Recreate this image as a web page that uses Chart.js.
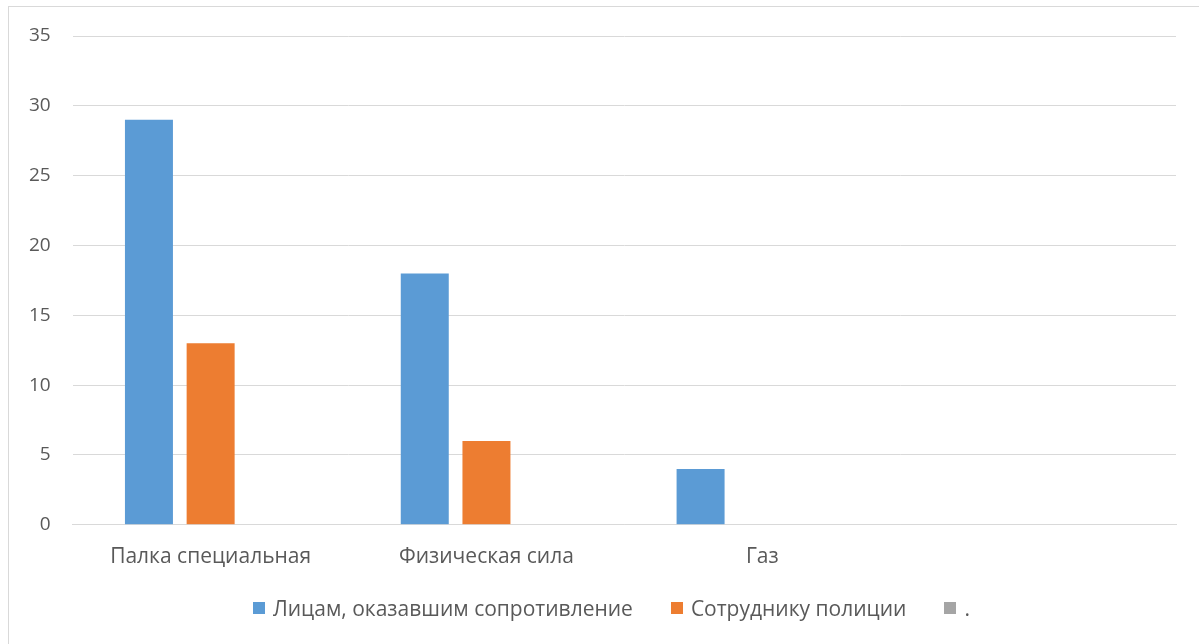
<!DOCTYPE html>
<html>
<head>
<meta charset="utf-8">
<script src="https://cdn.jsdelivr.net/npm/chart.js@4/dist/chart.umd.min.js"></script>
<style>
  html, body { margin: 0; padding: 0; background: #fff; }
  #wrap { position: relative; width: 1199px; height: 644px; overflow: hidden; }
  #frame { position: absolute; left: 8px; top: 6px; width: 1400px; height: 900px;
           border-left: 1px solid #d9d9d9; border-top: 1px solid #d9d9d9; }
  canvas { position: absolute; left: 0; top: 0; }
  #legend { position: absolute; left: 253px; top: 593px; height: 30px;
            display: flex; align-items: center; white-space: nowrap;
            font-family: "Open Sans", sans-serif; font-size: 21px; color: #595959; }
  #legend .item { display: flex; align-items: center; margin-right: 38px; }
  #legend .box { width: 12px; height: 12px; margin-right: 8px; }
</style>
</head>
<body>
<div id="wrap">
  <div id="frame"></div>
  <canvas id="chart" width="1199" height="644"></canvas>
  <div id="legend"></div>
</div>
<script>
// categories (the last one is empty in the source chart)
var categories = ['Палка специальная', 'Физическая сила', 'Газ', ''];

// series values
var resisters = [29, 18, 4, null];
var officers = [13, 6, null, null];
var dotSeries = [null, null, null, null];

var seriesNames = ['Лицам, оказавшим сопротивление', 'Сотруднику полиции', '.'];

var textColor = '#595959';
var gridColor = '#d9d9d9';
var font = { family: '"Open Sans", sans-serif', size: 21 };
var tickFont = { family: '"Open Sans", sans-serif', size: 19 };

var ctx = document.getElementById('chart').getContext('2d');

var chart = new Chart(ctx, {
    type: 'bar',
    data: {
        labels: categories,
        datasets: [{
            label: seriesNames[0],
            data: resisters,
            backgroundColor: '#5b9bd5'
        }, {
            label: seriesNames[1],
            data: officers,
            backgroundColor: '#ed7d31'
        }, {
            label: seriesNames[2],
            data: dotSeries,
            backgroundColor: '#a5a5a5'
        }]
    },
    options: {
        responsive: false,
        animation: false,
        devicePixelRatio: 1,
        categoryPercentage: 0.671,
        barPercentage: 0.778,
        layout: { padding: { left: 7, right: 23, top: 36, bottom: 62 } },
        plugins: {
            legend: { display: false },
            tooltip: { enabled: false }
        },
        scales: {
            x: {
                grid: { display: false },
                border: { display: true, color: gridColor, width: 1 },
                ticks: { color: textColor, font: font, padding: 12, maxRotation: 0 }
            },
            y: {
                min: 0,
                max: 35,
                ticks: { stepSize: 5, color: textColor, font: tickFont, padding: 22 },
                grid: { color: gridColor, lineWidth: 1, drawTicks: false },
                border: { display: false }
            }
        }
    }
});

// html legend built from the datasets (Excel puts the swatch close to the text)
var legend = document.getElementById('legend');
chart.data.datasets.forEach(function(ds) {
    var item = document.createElement('div');
    item.className = 'item';
    var box = document.createElement('span');
    box.className = 'box';
    box.style.background = ds.backgroundColor;
    var text = document.createElement('span');
    text.textContent = ds.label;
    item.appendChild(box);
    item.appendChild(text);
    legend.appendChild(item);
});
</script>
</body>
</html>
